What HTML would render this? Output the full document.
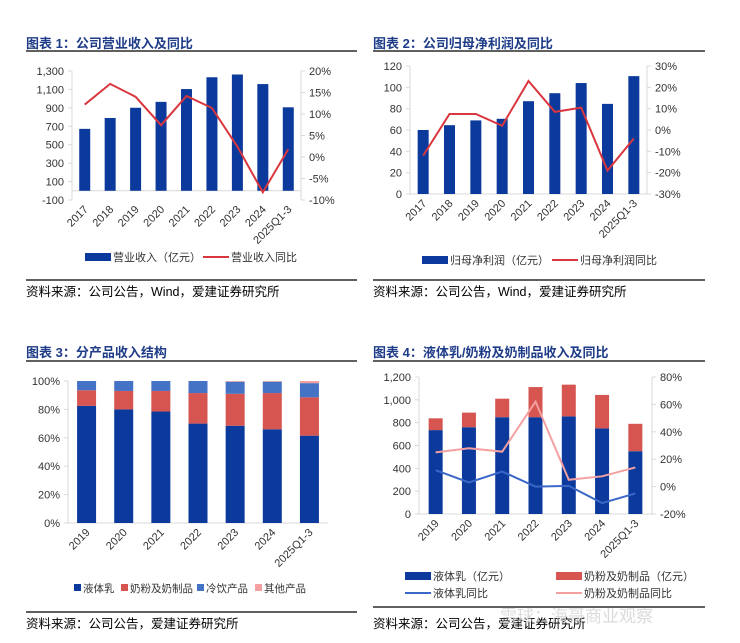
<!DOCTYPE html>
<html><head><meta charset="utf-8">
<style>
body{margin:0;background:#fff;width:740px;height:638px;overflow:hidden;font-family:"Liberation Sans","Noto Sans CJK SC",sans-serif;}
svg text{font-family:"Liberation Sans","Noto Sans CJK SC",sans-serif;}
</style></head>
<body>
<svg id="c" width="740" height="638" viewBox="0 0 740 638">
<g>
<text x="26" y="48" font-size="13" font-weight="bold" fill="#1f3c88">图表 1：公司营业收入及同比</text>
<line x1="26" y1="51" x2="357" y2="51" stroke="#000" stroke-width="1.2"/>
<line x1="26" y1="280" x2="357" y2="280" stroke="#000" stroke-width="1.2"/>
<text x="26" y="296" font-size="12.5" fill="#000">资料来源：公司公告，Wind，爱建证券研究所</text>
</g>
<g>
<text x="373" y="48" font-size="13" font-weight="bold" fill="#1f3c88">图表 2：公司归母净利润及同比</text>
<line x1="373" y1="51" x2="705" y2="51" stroke="#000" stroke-width="1.2"/>
<line x1="373" y1="280" x2="705" y2="280" stroke="#000" stroke-width="1.2"/>
<text x="373" y="296" font-size="12.5" fill="#000">资料来源：公司公告，Wind，爱建证券研究所</text>
</g>
<g>
<text x="26" y="357" font-size="13" font-weight="bold" fill="#1f3c88">图表 3：分产品收入结构</text>
<line x1="26" y1="361" x2="357" y2="361" stroke="#000" stroke-width="1.2"/>
<line x1="26" y1="612" x2="357" y2="612" stroke="#000" stroke-width="1.2"/>
<text x="26" y="628" font-size="12.5" fill="#000">资料来源：公司公告，爱建证券研究所</text>
</g>
<g>
<text x="373" y="357" font-size="13" font-weight="bold" fill="#1f3c88">图表 4：液体乳/奶粉及奶制品收入及同比</text>
<line x1="373" y1="361" x2="705" y2="361" stroke="#000" stroke-width="1.2"/>
<line x1="373" y1="607" x2="705" y2="607" stroke="#000" stroke-width="1.2"/>
<text x="373" y="628" font-size="12.5" fill="#000">资料来源：公司公告，爱建证券研究所</text>
<text x="500" y="622" font-size="17" fill="#ccc" opacity="0.7">雪球：海哥商业观察</text>
</g>
</svg>
<script>
const cats1=["2017","2018","2019","2020","2021","2022","2023","2024","2025Q1-3"];
const revenue=[672,790,901,965,1104,1232,1262,1158,906];
const revenueYoy=[12.2,17.0,14.0,7.4,14.2,11.4,2.4,-8.2,1.8];
const ticks1L=[-100,100,300,500,700,900,1100,1300];
const ticks1R=[-10,-5,0,5,10,15,20];

const cats2=cats1;
const profit=[60,64.5,69,70.5,87,94.5,104,84.5,110.5];
const profitYoy=[-12,7.5,7.5,2,23,8.5,10.5,-19,-4];
const ticks2L=[0,20,40,60,80,100,120];
const ticks2R=[-30,-20,-10,0,10,20,30];

const cats3=["2019","2020","2021","2022","2023","2024","2025Q1-3"];
const shareLiquid=[82.5,80,78.5,70,68.5,66,61.5];
const sharePowder=[11,13,14.5,21.5,22.5,25.5,27];
const shareCold=[6.5,7,7,8.5,8.5,8,10];
const shareOther=[0,0,0,0,0.5,0.5,1.5];
const ticks3=[0,20,40,60,80,100];

const cats4=cats3;
const liquidRev=[735,760,848,848,855,750,550];
const powderRev=[103,128,162,264,278,293,240];
const liquidYoy=[12,3,11,0,0.5,-12,-5];
const powderYoy=[25,28,25.5,62,5,7.5,14];
const ticks4L=[0,200,400,600,800,1000,1200];
const ticks4R=[-20,0,20,40,60,80];

const NS="http://www.w3.org/2000/svg";
const svg=document.getElementById('c');
function el(tag,attrs,parent){const e=document.createElementNS(NS,tag);for(const k in attrs)e.setAttribute(k,attrs[k]);(parent||svg).appendChild(e);return e;}
function fmt(v){return v.toLocaleString('en-US');}
const BLUE="#0b3a9c",RED="#d9363e",POW="#d65550",COLD="#4472c4",PINK="#f4a0a0",LBLUE="#3a67c8";

function axes(g,cfg){
  const {x0,x1,y0,y1,lmin,lmax,ticksL,rmin,rmax,ticksR,lf,rf,cats,zeroL}=cfg;
  const yL=v=>y1-(v-lmin)/(lmax-lmin)*(y1-y0);
  const yR=v=>y1-(v-rmin)/(rmax-rmin)*(y1-y0);
  const cw=(x1-x0)/cats.length;
  const xc=i=>x0+cw*(i+0.5);
  el('line',{x1:x0,y1:y0,x2:x0,y2:y1,stroke:'#d9d9d9'},g);
  if(ticksR)el('line',{x1:x1,y1:y0,x2:x1,y2:y1,stroke:'#d9d9d9'},g);
  const by=yL(zeroL);
  el('line',{x1:x0,y1:by,x2:x1,y2:by,stroke:'#d9d9d9'},g);
  ticksL.forEach(t=>{const tx=el('text',{x:x0-8,y:yL(t)+4,'font-size':11,'text-anchor':'end',fill:'#333'},g);tx.textContent=lf(t);
    el('line',{x1:x0-4,y1:yL(t),x2:x0,y2:yL(t),stroke:'#d9d9d9'},g);});
  if(ticksR)ticksR.forEach(t=>{const tx=el('text',{x:x1+8,y:yR(t)+4,'font-size':11,fill:'#333'},g);tx.textContent=rf(t);
    el('line',{x1:x1,y1:yR(t),x2:x1+4,y2:yR(t),stroke:'#d9d9d9'},g);});
  cats.forEach((c,i)=>{const tx=el('text',{x:0,y:0,'font-size':11,'text-anchor':'end',fill:'#333',transform:`translate(${xc(i)+4},${y1+10}) rotate(-45)`},g);tx.textContent=c;});
  return {yL,yR,xc,cw};
}
function bars(g,a,vals,base,color,w,name){
  vals.forEach((v,i)=>{const b0=base?base[i]:0;const yt=a.yL(b0+v),yb=a.yL(b0);
    const r=el('rect',{x:a.xc(i)-w/2,y:yt,width:w,height:Math.max(0,yb-yt),fill:color},g);
    
    });
}
function line(g,a,vals,color,name){
  const p=el('polyline',{points:vals.map((v,i)=>a.xc(i)+','+a.yR(v)).join(' '),fill:'none',stroke:color,'stroke-width':2},g);
  
  
}
function legend(g,x,y,type,color,label,name,fs){
  const lg=el('g',{},g);
  
  
  if(type==='box')el('rect',{x:x,y:y-4,width:26,height:8,fill:color},lg);
  else if(type==='sq')el('rect',{x:x,y:y-4,width:7,height:7,fill:color},lg);
  else el('line',{x1:x,y1:y,x2:x+26,y2:y,stroke:color,'stroke-width':2},lg);
  const t=el('text',{x:x+(type==='sq'?9:28),y:y+4,'font-size':fs||11,fill:'#333'},lg);t.textContent=label;
}
const pct=v=>v+'%';

// Chart 1
let g=el('g',{});


let a=axes(g,{x0:72,x1:301,y0:71,y1:200,lmin:-100,lmax:1300,ticksL:ticks1L,rmin:-10,rmax:20,ticksR:ticks1R,lf:fmt,rf:pct,cats:cats1,zeroL:0});
bars(g,a,revenue,null,BLUE,11,'revenue-bar');
line(g,a,revenueYoy,RED,'revenue-yoy-line');
legend(g,85,257,'box',BLUE,'营业收入（亿元）','legend-revenue');
legend(g,203,257,'line',RED,'营业收入同比','legend-revenue-yoy');

// Chart 2
g=el('g',{});


a=axes(g,{x0:410,x1:647,y0:66,y1:194,lmin:0,lmax:120,ticksL:ticks2L,rmin:-30,rmax:30,ticksR:ticks2R,lf:fmt,rf:pct,cats:cats2,zeroL:0});
bars(g,a,profit,null,BLUE,11,'profit-bar');
line(g,a,profitYoy,RED,'profit-yoy-line');
legend(g,422,260,'box',BLUE,'归母净利润（亿元）','legend-profit');
legend(g,552,260,'line',RED,'归母净利润同比','legend-profit-yoy');

// Chart 3
g=el('g',{});


a=axes(g,{x0:68,x1:328,y0:381,y1:523,lmin:0,lmax:100,ticksL:ticks3,ticksR:null,lf:pct,rf:pct,cats:cats3,zeroL:0});
const b2=shareLiquid.map((v,i)=>v+sharePowder[i]);
const b3=b2.map((v,i)=>v+shareCold[i]);
bars(g,a,shareLiquid,null,BLUE,19,'liquid-share-bar');
bars(g,a,sharePowder,shareLiquid,POW,19,'powder-share-bar');
bars(g,a,shareCold,b2,COLD,19,'cold-share-bar');
bars(g,a,shareOther,b3,PINK,19,'other-share-bar');
legend(g,74,588,'sq',BLUE,'液体乳','legend-liquid',10.5);
legend(g,121,588,'sq',POW,'奶粉及奶制品','legend-powder',10.5);
legend(g,197,588,'sq',COLD,'冷饮产品','legend-cold',10.5);
legend(g,255,588,'sq',PINK,'其他产品','legend-other',10.5);

// Chart 4
g=el('g',{});


a=axes(g,{x0:419,x1:652,y0:377,y1:514,lmin:0,lmax:1200,ticksL:ticks4L,rmin:-20,rmax:80,ticksR:ticks4R,lf:fmt,rf:pct,cats:cats4,zeroL:0});
bars(g,a,liquidRev,null,BLUE,14,'liquid-rev-bar');
bars(g,a,powderRev,liquidRev,POW,14,'powder-rev-bar');
line(g,a,liquidYoy,LBLUE,'liquid-yoy-line');
line(g,a,powderYoy,PINK,'powder-yoy-line');
legend(g,405,576,'box',BLUE,'液体乳（亿元）','legend-liquid-rev');
legend(g,556,576,'box',POW,'奶粉及奶制品（亿元）','legend-powder-rev');
legend(g,405,593,'line',LBLUE,'液体乳同比','legend-liquid-yoy');
legend(g,556,593,'line',PINK,'奶粉及奶制品同比','legend-powder-yoy');
</script>
</body></html>
